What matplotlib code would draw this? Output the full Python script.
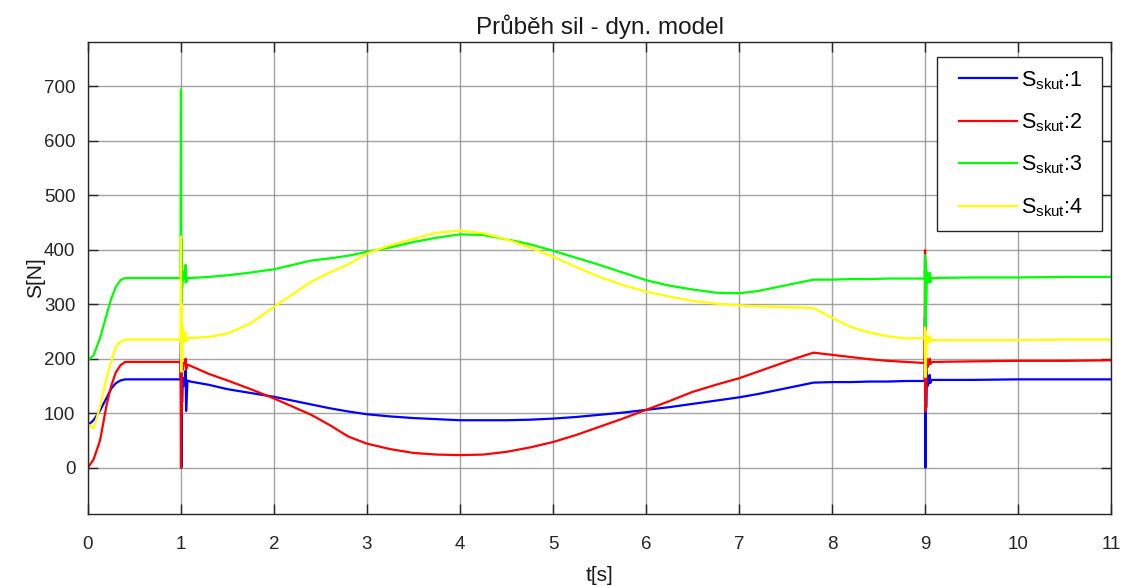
import matplotlib
matplotlib.use("Agg")
import matplotlib.pyplot as plt
from matplotlib.lines import Line2D
from matplotlib.legend_handler import HandlerLine2D

plt.rcParams['font.family'] = ['Liberation Sans', 'DejaVu Sans']
plt.rcParams['mathtext.default'] = 'regular'

# time samples [s]
t = [0, 0.06, 0.13, 0.2, 0.25, 0.3, 0.35, 0.4, 0.6, 0.8, 0.995,
     1.0, 1.004, 1.008, 1.012, 1.02, 1.03, 1.045, 1.05, 1.055, 1.07, 1.1,
     1.3, 1.5, 1.75, 2.0, 2.2, 2.4, 2.6, 2.8, 3.0, 3.25, 3.5, 3.75,
     4.0, 4.25, 4.5, 4.75, 5.0, 5.25, 5.5, 5.75, 6.0, 6.25, 6.5, 6.75,
     7.0, 7.2, 7.4, 7.6, 7.8, 8.0, 8.2, 8.4, 8.6, 8.8, 8.995,
     9.0, 9.004, 9.008, 9.012, 9.02, 9.03, 9.045, 9.05, 9.055, 9.07, 9.1,
     9.5, 10.0, 10.5, 11.0]

# forces on the individual legs [N]
s1 = [78, 87, 105, 128, 145, 155, 160, 162, 162, 162, 162,
      231, 0, 180, 120, 165, 150, 160, 178, 104, 160, 158,
      152, 144, 137, 130, 123, 116, 109, 103, 98, 94, 91, 89,
      87, 87, 87, 88, 90, 93, 97, 101, 106, 111, 117, 123,
      129, 135, 142, 149, 156, 157, 157, 158, 158, 159, 159,
      277, 0, 200, 110, 175, 150, 162, 170, 155, 161, 161,
      161, 162, 162, 162]

s2 = [0, 15, 50, 115, 150, 175, 188, 194, 194, 194, 194,
      0, 205, 100, 195, 180, 192, 190, 200, 180, 189, 187,
      172, 160, 144, 127, 112, 97, 78, 57, 44, 34, 27, 24,
      23, 24, 29, 37, 47, 60, 75, 90, 106, 122, 139, 152,
      164, 176, 188, 200, 211, 207, 203, 199, 196, 194, 192,
      399, 103, 203, 140, 200, 185, 195, 200, 190, 194, 194,
      195, 196, 196, 197]

s3 = [197, 206, 238, 280, 310, 332, 344, 348, 348, 348, 348,
      694, 300, 420, 330, 360, 345, 348, 372, 340, 348, 348,
      350, 353, 358, 364, 372, 380, 384, 389, 396, 404, 414, 422,
      428, 427, 419, 410, 398, 385, 372, 358, 344, 334, 327, 321,
      320, 324, 331, 338, 345, 345, 346, 346, 347, 347, 347,
      390, 235, 380, 300, 360, 340, 348, 358, 340, 348, 348,
      349, 349, 350, 350]

s4 = [80, 72, 112, 165, 195, 222, 231, 235, 235, 235, 235,
      424, 176, 300, 200, 260, 230, 238, 248, 232, 238, 238,
      240, 246, 265, 295, 318, 341, 358, 373, 393, 408, 420, 431,
      435, 430, 419, 404, 387, 368, 350, 335, 323, 314, 306, 301,
      298, 296, 295, 294, 293, 275, 258, 248, 241, 237, 238,
      257, 166, 250, 200, 240, 228, 235, 242, 230, 234, 234,
      234, 234, 235, 235]

series = [s1, s2, s3, s4]
labels = ['$S_{skut}$:1', '$S_{skut}$:2', '$S_{skut}$:3', '$S_{skut}$:4']
colors = ['#0000ff', '#ff0000', '#00ff00', '#ffff00']

x_ticks = list(range(0, 12))
y_ticks = [0, 100, 200, 300, 400, 500, 600, 700]

fig = plt.figure(figsize=(11.25, 5.86), dpi=100)
ax = fig.add_axes([0.0782, 0.1229, 0.9094, 0.8054])

for y, lab, col in zip(series, labels, colors):
    ax.plot(t, y, color=col, lw=1.6, label=lab)

ax.set_xlim(0, 11)
ax.set_ylim(-85, 781)
ax.set_xticks(x_ticks)
ax.set_yticks(y_ticks)
ax.grid(True, color='#8c8c8c', lw=1.0, alpha=0.8)
ax.set_axisbelow(True)

edge = '#262626'
for sp in ax.spines.values():
    sp.set_color(edge)
    sp.set_linewidth(1.0)
ax.tick_params(direction='in', length=7, width=1, colors=edge,
               top=True, right=True, labelsize=13.5, labelcolor='#262626')
ax.tick_params(axis='x', pad=16)
ax.tick_params(axis='y', pad=9)

ax.set_title('Průběh sil - dyn. model', fontsize=17.5, color='#1a1a1a', pad=6)
ax.set_xlabel('t[s]', fontsize=15, color='#1a1a1a', labelpad=9)
ax.set_ylabel('S[N]', fontsize=15, color='#1a1a1a', labelpad=-1)

handles, texts = ax.get_legend_handles_labels()
texts = [s + '  ' for s in texts]
leg = ax.legend(handles, texts, loc='upper right',
                bbox_to_anchor=(0.991, 0.968),
                borderaxespad=0, fontsize=15.5, handlelength=3.16,
                labelspacing=0.92, borderpad=0.55, handletextpad=0.2,
                handler_map={Line2D: HandlerLine2D(xpad=0.47)},
                fancybox=False, framealpha=1, edgecolor=edge)
leg.get_frame().set_linewidth(1.0)

fig.savefig('out.png', dpi=100, facecolor='white')
